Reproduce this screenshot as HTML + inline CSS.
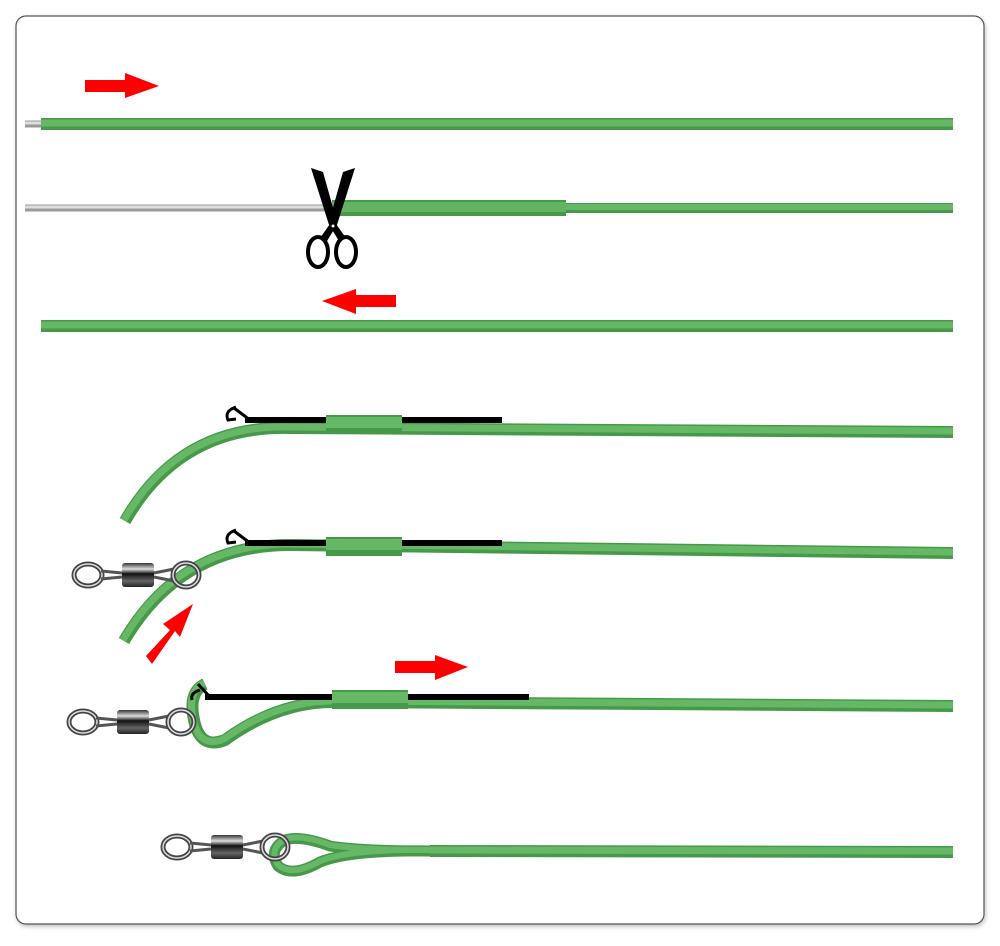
<!DOCTYPE html>
<html><head><meta charset="utf-8"><style>
html,body{margin:0;padding:0;background:#fff;width:1000px;height:946px;overflow:hidden}
</style></head><body>
<svg width="1000" height="946" viewBox="0 0 1000 946" xmlns="http://www.w3.org/2000/svg">
<defs>
<filter id="sh" x="-5%" y="-5%" width="110%" height="110%"><feDropShadow dx="1" dy="2" stdDeviation="2" flood-color="#000" flood-opacity="0.25"/></filter>
<linearGradient id="bar" x1="0" y1="0" x2="0" y2="1">
<stop offset="0" stop-color="#333"/><stop offset="0.25" stop-color="#ddd"/><stop offset="0.45" stop-color="#111"/><stop offset="0.75" stop-color="#666"/><stop offset="1" stop-color="#222"/>
</linearGradient>
<g id="swivel">
  <ellipse cx="0" cy="0" rx="14" ry="11" fill="none" stroke="#444" stroke-width="5"/>
  <ellipse cx="0" cy="0" rx="14" ry="11" fill="none" stroke="#ddd" stroke-width="1.5"/>
  <path d="M13,-4 L34,-2 M13,4 L34,2" stroke="#555" stroke-width="3"/>
  <rect x="34" y="-12" width="32" height="24" rx="3" fill="url(#bar)"/>
  <path d="M66,-2 L86,-6 M66,2 L86,6" stroke="#555" stroke-width="3"/>
  <ellipse cx="98" cy="0" rx="13" ry="12" fill="none" stroke="#444" stroke-width="5"/>
  <ellipse cx="98" cy="0" rx="13" ry="12" fill="none" stroke="#ddd" stroke-width="1.5"/>
</g>
</defs>
<rect x="16" y="16" width="968" height="908" rx="10" fill="#fff" stroke="#555" stroke-width="1.2" filter="url(#sh)"/>

<g fill="none" stroke-linecap="butt">
<line x1="25" y1="124" x2="41" y2="124" stroke="#999" stroke-width="7"/>
<line x1="25" y1="123" x2="41" y2="123" stroke="#ddd" stroke-width="3"/>
<line x1="41" y1="124" x2="953" y2="124" stroke="#47994a" stroke-width="12"/>
<line x1="41" y1="123" x2="953" y2="123" stroke="#66b866" stroke-width="7"/>

<line x1="25" y1="208" x2="332" y2="208" stroke="#999" stroke-width="7"/>
<line x1="25" y1="207" x2="332" y2="207" stroke="#ddd" stroke-width="3"/>
<line x1="332" y1="208" x2="566" y2="208" stroke="#47994a" stroke-width="16"/>
<line x1="332" y1="207" x2="566" y2="207" stroke="#62b462" stroke-width="10"/>
<line x1="566" y1="208" x2="953" y2="208" stroke="#47994a" stroke-width="10"/>
<line x1="566" y1="207" x2="953" y2="207" stroke="#66b866" stroke-width="6"/>

<line x1="41" y1="326" x2="953" y2="326" stroke="#47994a" stroke-width="12"/>
<line x1="41" y1="325" x2="953" y2="325" stroke="#66b866" stroke-width="7"/>

<path d="M125,521 Q180,425 290,428 L953,432" stroke="#47994a" stroke-width="12"/>
<path d="M124,520 Q179,424 290,427 L953,431" stroke="#66b866" stroke-width="7"/>
<path d="M124,641 Q180,545 290,545 L953,553" stroke="#47994a" stroke-width="12"/>
<path d="M123,640 Q179,544 290,544 L953,552" stroke="#66b866" stroke-width="7"/>
<path d="M205,684 Q188,692 194,720 Q200,750 225,740 Q280,700 340,702 L953,706" stroke="#47994a" stroke-width="12"/>
<path d="M204,683 Q187,691 193,719 Q199,749 224,739 Q279,699 340,701 L953,705" stroke="#66b866" stroke-width="7"/>
<path d="M430,851 L953,852" stroke="#47994a" stroke-width="12"/>
<path d="M430,850 L953,851" stroke="#66b866" stroke-width="7"/>
<path d="M430,851 Q360,851 330,846 Q300,835 285,840 Q268,850 278,866 Q292,878 320,862 Q350,850 430,851" stroke="#47994a" stroke-width="11"/>
<path d="M430,850 Q360,850 330,845 Q300,834 285,839 Q268,849 278,865 Q292,877 320,861 Q350,849 430,850" stroke="#66b866" stroke-width="6"/>
</g>

<g>
<rect x="245" y="417" width="257" height="6" fill="#000"/>
<path d="M250,420 L234,408 M236,407 Q224,411 228,420 L236,419" stroke="#000" stroke-width="3" fill="none"/>
<rect x="326" y="415" width="76" height="19" fill="#47994a"/><rect x="326" y="417" width="76" height="11" fill="#66b866"/>

<rect x="245" y="540" width="257" height="6" fill="#000"/>
<path d="M250,543 L234,531 M236,530 Q224,534 228,543 L236,542" stroke="#000" stroke-width="3" fill="none"/>
<rect x="326" y="537" width="76" height="19" fill="#47994a"/><rect x="326" y="539" width="76" height="11" fill="#66b866"/>

<rect x="205" y="694" width="324" height="6" fill="#000"/>
<path d="M210,697 L198,684 M200,690 Q190,693 192,700" stroke="#000" stroke-width="3" fill="none"/>
<rect x="332" y="690" width="76" height="19" fill="#47994a"/><rect x="332" y="692" width="76" height="11" fill="#66b866"/>
</g>

<use href="#swivel" transform="translate(88,575)"/>
<use href="#swivel" transform="translate(83,722)"/>
<use href="#swivel" transform="translate(177,847)"/>

<g fill="#000">
<path d="M311,168 L323,172 L337,222 L330,228 Z"/>
<path d="M355,168 L343,172 L329,222 L336,228 Z"/>
<path d="M330,224 L320,238 L327,241 L335,228 Z"/>
<path d="M336,224 L346,238 L339,241 L331,228 Z"/>
<ellipse cx="318" cy="252" rx="10" ry="15" fill="none" stroke="#000" stroke-width="4"/>
<ellipse cx="346" cy="252" rx="10" ry="15" fill="none" stroke="#000" stroke-width="4"/>
<circle cx="333" cy="226" r="1.5" fill="#fff"/>
</g>

<g fill="#f00">
<path d="M85,80 L125,80 L125,73 L159,86 L125,98 L125,92 L85,92 Z"/>
<path d="M396,295 L356,295 L356,289 L322,301 L356,314 L356,307 L396,307 Z"/>
<path d="M395,661 L435,661 L435,655 L468,667 L435,680 L435,673 L395,673 Z"/>
<path d="M146,656 L170,630 L163,624 L193,604 L180,637 L175,631 L152,664 Z"/>
</g>
</svg>
</body></html>
